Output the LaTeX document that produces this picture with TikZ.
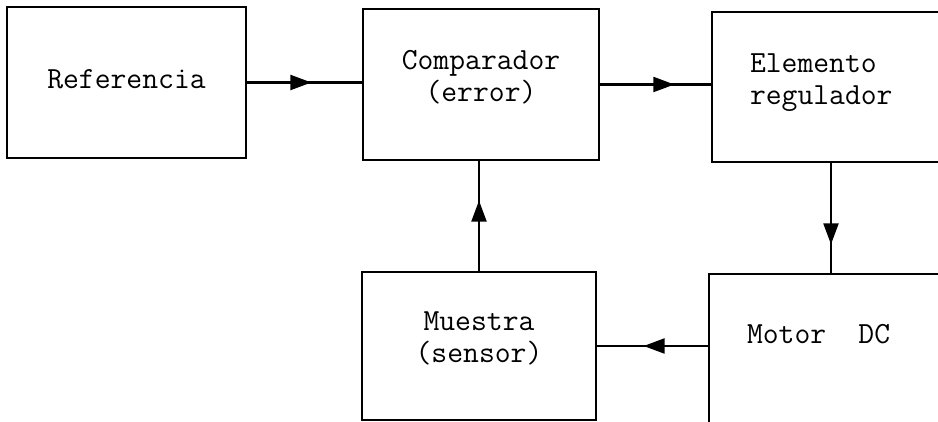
\documentclass[tikz,border=0pt]{standalone}
\usepackage{fontspec}
\usetikzlibrary{arrows.meta,decorations.markings}

\begin{document}
\begin{tikzpicture}[x=0.02cm,y=-0.02cm,
  block/.style={draw,line width=1.2pt,text depth=0.35cm,
    font={\ttfamily\fontsize{17.5}{18.2}\selectfont}},
  flow/.style={line width=1.2pt,decoration={markings,
    mark=at position #1 with {\arrow{Triangle[length=0.42cm,width=0.3cm]}}},
    postaction={decorate}}]
\clip (0,0) rectangle (938,422);
% blocks of the loop
\node[block,minimum width=4.78cm,minimum height=3.02cm,text depth=0.15cm] (ref) at (126.5,82.5) {Referencia};
\node[block,minimum width=4.72cm,minimum height=3.02cm,align=center] (comp) at (481,84.5) {Comparador\\(error)};
\node[block,minimum height=3cm,text width=3.24cm,inner xsep=0.76cm,align=left,text depth=0.95cm] (reg) at (831,87) {Elemento\\regulador};
\node[block,minimum width=4.68cm,minimum height=2.96cm,align=center] (sens) at (479,346) {Muestra\\(sensor)};
\node[block,minimum height=3cm,text width=3.3cm,inner xsep=0.76cm,align=left,text depth=0.6cm] (motor) at (829.5,349) {Motor\hspace*{1.05em}DC};
% signal flow
\draw[flow=0.56] (ref.east) -- (ref.east -| comp.west);
\draw[flow=0.67] (comp.east) -- (comp.east -| reg.west);
\draw[flow=0.74] (reg.south) -- (reg.south |- motor.north);
\draw[flow=0.58] (sens.east -| motor.west) -- (sens.east);
\draw[flow=0.64] (sens.north) -- (sens.north |- comp.south);
\end{tikzpicture}
\end{document}
